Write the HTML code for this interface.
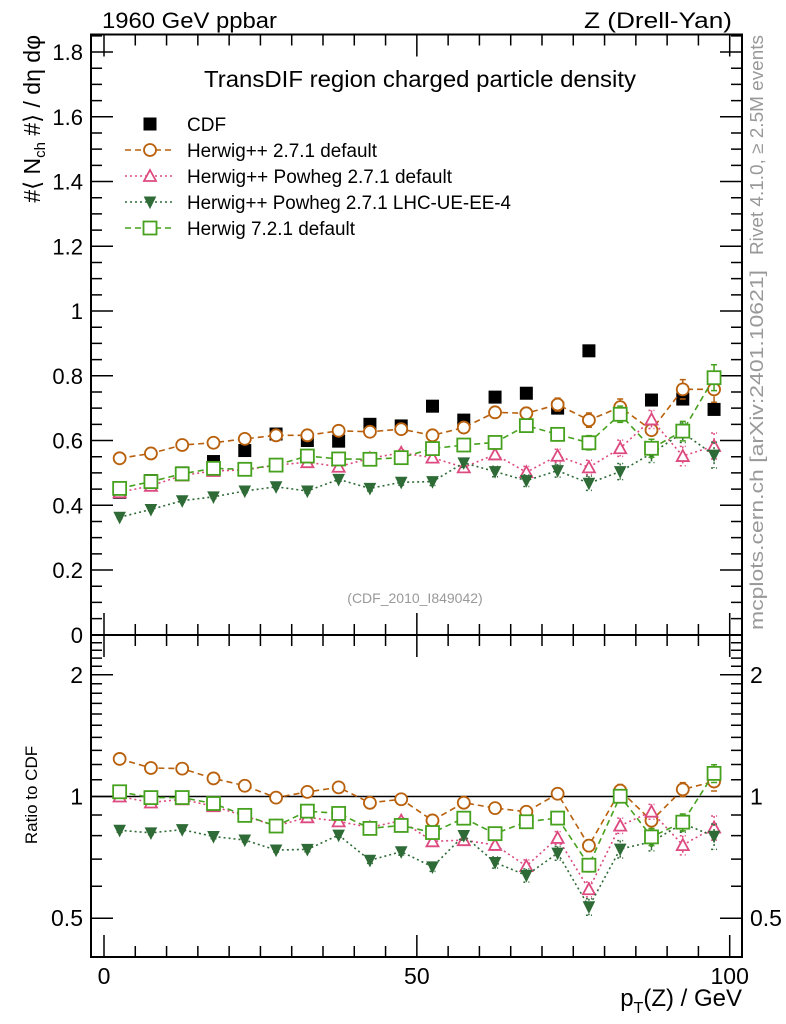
<!DOCTYPE html>
<html><head><meta charset="utf-8"><style>
body{margin:0;background:#fff;}
svg{display:block;font-family:"Liberation Sans",sans-serif;}
</style></head><body>
<svg id="chart" width="786" height="1024" xmlns="http://www.w3.org/2000/svg">
<rect width="786" height="1024" fill="#fff"/>
<g id="grid"></g>
<text x="102" y="28" font-size="22" textLength="175" lengthAdjust="spacingAndGlyphs">1960 GeV ppbar</text>
<text x="732" y="28" font-size="22" text-anchor="end" textLength="148" lengthAdjust="spacingAndGlyphs">Z (Drell-Yan)</text>
<text x="204" y="87" font-size="23" textLength="432" lengthAdjust="spacingAndGlyphs">TransDIF region charged particle density</text>
<text transform="translate(763,255) rotate(-90)" font-size="18" fill="#999" textLength="220" lengthAdjust="spacingAndGlyphs">Rivet 4.1.0, ≥ 2.5M events</text>
<text transform="translate(763,630) rotate(-90)" font-size="18" fill="#999" textLength="360" lengthAdjust="spacingAndGlyphs">mcplots.cern.ch [arXiv:2401.10621]</text>
<text x="415" y="603" font-size="14" fill="#999" text-anchor="middle">(CDF_2010_I849042)</text>
<text transform="translate(40,35) rotate(-90)" font-size="23" text-anchor="end">#⟨ N<tspan font-size="15" dy="5">ch</tspan><tspan dy="-5"> #⟩ / dη dφ</tspan></text>
<text transform="translate(37,795) rotate(-90)" font-size="17" text-anchor="middle">Ratio to CDF</text>
<text x="742" y="1006" font-size="24" text-anchor="end">p<tspan font-size="16" dy="7">T</tspan><tspan dy="-7">(Z) / GeV</tspan></text>
<g id="legend"></g>
<g id="marks"></g>
</svg>
<script>
const xCenters=[2.5,7.5,12.5,17.5,22.5,27.5,32.5,37.5,42.5,47.5,52.5,57.5,62.5,67.5,72.5,77.5,82.5,87.5,92.5,97.5];
const cdf=[0.44,0.476,0.50,0.535,0.569,0.62,0.60,0.598,0.65,0.645,0.706,0.663,0.734,0.746,0.70,0.877,0.68,0.725,0.728,0.696];
const herwigpp=[0.545,0.56,0.586,0.593,0.605,0.616,0.616,0.63,0.627,0.635,0.616,0.64,0.687,0.684,0.711,0.663,0.703,0.632,0.758,0.758];
const powheg=[0.44,0.46,0.492,0.506,0.509,0.524,0.533,0.519,0.545,0.562,0.547,0.517,0.557,0.502,0.553,0.517,0.576,0.665,0.552,0.583];
const powhegLHC=[0.363,0.387,0.414,0.426,0.444,0.457,0.444,0.48,0.452,0.471,0.473,0.531,0.504,0.476,0.507,0.468,0.504,0.56,0.624,0.555];
const herwig7=[0.452,0.473,0.497,0.514,0.511,0.524,0.552,0.543,0.542,0.547,0.575,0.586,0.594,0.646,0.619,0.593,0.681,0.576,0.629,0.794];
const mcErr=[0.004,0.004,0.004,0.005,0.005,0.005,0.006,0.006,0.008,0.009,0.012,0.014,0.016,0.018,0.02,0.022,0.025,0.028,0.03,0.04];
const yTicks=[0,0.2,0.4,0.6,0.8,1,1.2,1.4,1.6,1.8];
const yTickLabels=["0","0.2","0.4","0.6","0.8","1","1.2","1.4","1.6","1.8"];
const xTicks=[0,50,100];
const rTicks=[0.5,1,2];
const rTickLabels=["0.5","1","2"];

const NS="http://www.w3.org/2000/svg";
const L=91,R=742,T=34.5,MB=635,B=957;
const X=v=>104+6.257*v;
const Y=v=>634.75-323.75*v;
const RY=r=>796.5-121.7*Math.log2(r);
function el(tag,attrs,parent){const e=document.createElementNS(NS,tag);for(const k in attrs)e.setAttribute(k,attrs[k]);parent.appendChild(e);return e;}
const grid=document.getElementById('grid');
const marks=document.getElementById('marks');
const legend=document.getElementById('legend');

let f1=el('rect',{x:L,y:T,width:R-L,height:MB-T,fill:'none',stroke:'#000','stroke-width':2},grid);


let f2=el('rect',{x:L,y:MB,width:R-L,height:B-MB,fill:'none',stroke:'#000','stroke-width':2},grid);



for(let v=0;v<=1.86;v+=0.05){const vv=Math.round(v*100)/100;const maj=Math.abs(vv*5-Math.round(vv*5))<1e-6;const len=maj?22:11;
 let t=el('path',{d:`M${L} ${Y(vv)}h${len}M${R} ${Y(vv)}h${-len}`,stroke:'#000','stroke-width':1.5},grid);
 }
yTicks.forEach((v,i)=>{let t=el('text',{x:L-8,y:Y(v)+8,'font-size':22,'text-anchor':'end'},grid);t.textContent=yTickLabels[i];
 });
for(let v=0;v<=100;v+=5){const maj=v%50===0;const len=maj?22:11;
 let t=el('path',{d:`M${X(v)} ${T}v${len}M${X(v)} ${MB}v${-len}M${X(v)} ${MB}v${len}M${X(v)} ${B}v${-len}`,stroke:'#000','stroke-width':1.5},grid);
 }
xTicks.forEach(v=>{let t=el('text',{x:X(v),y:984,'font-size':23,'text-anchor':'middle'},grid);t.textContent=v;
 });
const rMinor=[0.4,0.5,0.6,0.7,0.8,0.9,1,1.1,1.2,1.3,1.4,1.5,1.6,1.7,1.8,1.9,2,2.1,2.2,2.3,2.4,2.5];
rMinor.forEach(r=>{const y=RY(r);if(y<MB+2||y>B-2)return;const maj=rTicks.includes(r);const len=maj?22:11;
 let t=el('path',{d:`M${L} ${y}h${len}M${R} ${y}h${-len}`,stroke:'#000','stroke-width':1.5},grid);
 });
rTicks.forEach((r,i)=>{let t=el('text',{x:L-8,y:RY(r)+8,'font-size':23,'text-anchor':'end'},grid);t.textContent=rTickLabels[i];
 
 let t2=el('text',{x:R+8,y:RY(r)+8,'font-size':23},grid);t2.textContent=rTickLabels[i];
 });
let one=el('line',{x1:L,x2:R,y1:RY(1),y2:RY(1),stroke:'#000','stroke-width':1.5},grid);


function marker(type,x,y,color,parent){
 if(type==='circle')return el('circle',{cx:x,cy:y,r:6,fill:'#fff',stroke:color,'stroke-width':1.8},parent);
 if(type==='tri')return el('path',{d:`M${x} ${y-6}L${x+6} ${y+5}L${x-6} ${y+5}Z`,fill:'#fff',stroke:color,'stroke-width':1.8},parent);
 if(type==='dtri')return el('path',{d:`M${x} ${y+6}L${x+5.5} ${y-5}L${x-5.5} ${y-5}Z`,fill:color,stroke:color,'stroke-width':1},parent);
 if(type==='sq')return el('rect',{x:x-6.5,y:y-6.5,width:13,height:13,fill:'#fff',stroke:color,'stroke-width':1.8},parent);
 return el('rect',{x:x-6.5,y:y-6.5,width:13,height:13,fill:color},parent);
}
const series=[
 {name:'herwigpp-2-7-1',data:herwigpp,color:'#b8600c',type:'circle',dash:'6,4',label:'Herwig++ 2.7.1 default'},
 {name:'herwigpp-powheg',data:powheg,color:'#dd4a80',type:'tri',dash:'2,3',label:'Herwig++ Powheg 2.7.1 default'},
 {name:'herwigpp-powheg-lhc',data:powhegLHC,color:'#2e6b36',type:'dtri',dash:'2,3',label:'Herwig++ Powheg 2.7.1 LHC-UE-EE-4'},
 {name:'herwig-7-2-1',data:herwig7,color:'#46a11e',type:'sq',dash:'6,4',label:'Herwig 7.2.1 default'}
];
cdf.forEach((v,i)=>{let m=marker('data',X(xCenters[i]),Y(v),'#000',marks);
 });
series.forEach(s=>{
 const g=el('g',{},marks);
 
 let p=el('polyline',{points:s.data.map((v,i)=>X(xCenters[i])+','+Y(v)).join(' '),fill:'none',stroke:s.color,'stroke-width':1.6,'stroke-dasharray':s.dash},g);
 
 const ratios=s.data.map((v,i)=>v/cdf[i]);
 let pr=el('polyline',{points:ratios.map((r,i)=>X(xCenters[i])+','+RY(r)).join(' '),fill:'none',stroke:s.color,'stroke-width':1.6,'stroke-dasharray':s.dash},g);
 
 s.data.forEach((v,i)=>{const x=X(xCenters[i]);const e=mcErr[i];
  let eb=el('path',{d:`M${x} ${Y(v+e)}V${Y(v-e)}M${x-3} ${Y(v+e)}h6M${x-3} ${Y(v-e)}h6`,stroke:s.color,'stroke-width':1.5,'stroke-dasharray':s.dash},g);
  
  let m=marker(s.type,x,Y(v),s.color,g);
  
  const r=ratios[i],re=e/cdf[i];
  let eb2=el('path',{d:`M${x} ${RY(r+re)}V${RY(Math.max(r-re,0.01))}M${x-3} ${RY(r+re)}h6M${x-3} ${RY(Math.max(r-re,0.01))}h6`,stroke:s.color,'stroke-width':1.5,'stroke-dasharray':s.dash},g);
  
  let m2=marker(s.type,x,RY(r),s.color,g);
  
 });
});
const lx=150;
const legendLens=[190,265,324,168];
let lm=marker('data',lx,124,'#000',legend);

let lt=el('text',{x:187,y:131,'font-size':19},legend);lt.textContent='CDF';

series.forEach((s,k)=>{const y=150+26*k;
 let ln=el('line',{x1:125,x2:175,y1:y,y2:y,stroke:s.color,'stroke-width':1.5,'stroke-dasharray':s.dash},legend);
 
 let m=marker(s.type,lx,y,s.color,legend);
 
 let t=el('text',{x:187,y:y+7,'font-size':19,textLength:legendLens[k],lengthAdjust:'spacingAndGlyphs'},legend);t.textContent=s.label;
 
});
</script>
</body></html>
